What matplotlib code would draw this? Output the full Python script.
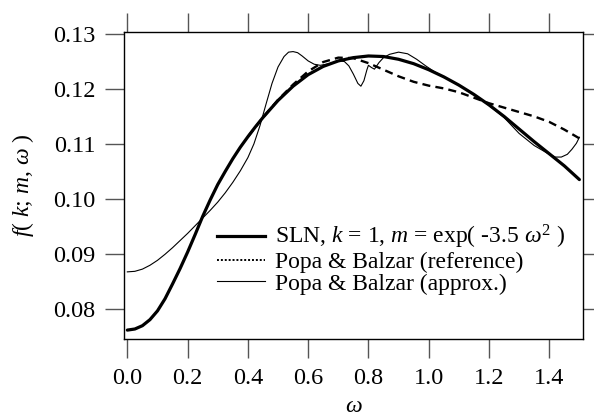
import matplotlib
matplotlib.use("Agg")
import matplotlib.pyplot as plt
from matplotlib.lines import Line2D

plt.rcParams['font.family'] = ['Liberation Serif', 'DejaVu Serif']
plt.rcParams['mathtext.fontset'] = 'custom'
plt.rcParams['mathtext.rm'] = 'Liberation Serif'
plt.rcParams['mathtext.it'] = 'Liberation Serif:italic'

# SLN curve, k = 1, m = exp(-3.5 w^2)
w_sln = [0.000, 0.025, 0.050, 0.075, 0.100, 0.125, 0.150, 0.175, 0.200,
         0.225, 0.250, 0.275, 0.300, 0.325, 0.350, 0.375, 0.400, 0.425,
         0.450, 0.50, 0.55, 0.60, 0.65, 0.70, 0.75, 0.80, 0.85, 0.90,
         0.95, 1.00, 1.05, 1.10, 1.15, 1.20, 1.25, 1.30, 1.35, 1.40,
         1.45, 1.50]
f_sln = [0.0761, 0.0763, 0.0769, 0.0780, 0.0796, 0.0818, 0.0845, 0.0873,
         0.0903, 0.0935, 0.0968, 0.0998, 0.1026, 0.1050, 0.1073, 0.1094,
         0.1113, 0.1131, 0.1148, 0.1179, 0.1205, 0.1226, 0.1241, 0.1251,
         0.1257, 0.1260, 0.1259, 0.1254, 0.1246, 0.1235, 0.1222, 0.1207,
         0.1190, 0.1171, 0.1150, 0.1127, 0.1104, 0.1082, 0.1060, 0.1035]

# Popa & Balzar (reference)
w_ref = [0.40, 0.45, 0.50, 0.55, 0.60, 0.65, 0.70, 0.75, 0.80, 0.85,
         0.90, 0.95, 1.00, 1.05, 1.10, 1.15, 1.20, 1.25, 1.30, 1.35,
         1.40, 1.45, 1.50]
f_ref = [0.1113, 0.1148, 0.1180, 0.1208, 0.1232, 0.1249, 0.1257, 0.1256,
         0.1247, 0.1235, 0.1223, 0.1213, 0.1206, 0.1201, 0.1194, 0.1184,
         0.1174, 0.1166, 0.1158, 0.1150, 0.1140, 0.1126, 0.1110]

# Popa & Balzar (approx.)
w_app = [0.000, 0.025, 0.050, 0.075, 0.100, 0.125, 0.150, 0.175, 0.200,
         0.225, 0.250, 0.275, 0.300, 0.325, 0.350, 0.375, 0.400, 0.420,
         0.440, 0.460, 0.480, 0.500, 0.520, 0.535, 0.550, 0.565, 0.580,
         0.600, 0.620, 0.640, 0.670, 0.700, 0.720, 0.735, 0.750, 0.765,
         0.775, 0.785, 0.795, 0.800, 0.810, 0.820, 0.835, 0.850, 0.870,
         0.900, 0.930, 0.960, 0.990, 1.020, 1.050, 1.100, 1.150, 1.200,
         1.250, 1.300, 1.350, 1.400, 1.420, 1.440, 1.460, 1.475, 1.490,
         1.500]
f_app = [0.0867, 0.0868, 0.0872, 0.0879, 0.0888, 0.0899, 0.0911, 0.0924,
         0.0937, 0.0951, 0.0965, 0.0979, 0.0994, 0.1011, 0.1030, 0.1051,
         0.1075, 0.1100, 0.1133, 0.1172, 0.1210, 0.1240, 0.1259, 0.1267,
         0.1268, 0.1266, 0.1260, 0.1251, 0.1245, 0.1243, 0.1246, 0.1251,
         0.1250, 0.1242, 0.1227, 0.1210, 0.1205, 0.1215, 0.1235, 0.1243,
         0.1239, 0.1236, 0.1248, 0.1257, 0.1263, 0.1267, 0.1264, 0.1254,
         0.1242, 0.1231, 0.1222, 0.1207, 0.1190, 0.1170, 0.1148, 0.1119,
         0.1097, 0.1081, 0.1076, 0.1076, 0.1081, 0.1090, 0.1101, 0.1112]

x_ticks = [0.0, 0.2, 0.4, 0.6, 0.8, 1.0, 1.2, 1.4]
y_ticks = [0.08, 0.09, 0.10, 0.11, 0.12, 0.13]

fig = plt.figure(figsize=(5.94, 4.16), dpi=100)
ax = fig.add_axes([0.2093, 0.1851, 0.7727, 0.7387])

ax.plot(w_ref, f_ref, color='black', lw=1.7, dashes=(3.4, 2.2), zorder=2)
ax.plot(w_app, f_app, color='black', lw=0.8, zorder=3)
ax.plot(w_sln, f_sln, color='black', lw=2.3, zorder=4,
        solid_capstyle='round', solid_joinstyle='round')

ax.set_xlim(-0.01, 1.513)
ax.set_ylim(0.07448, 0.13042)
ax.set_xticks(x_ticks)
ax.set_xticklabels(['%.1f' % v for v in x_ticks])
ax.set_yticks(y_ticks)
ax.set_yticklabels(['%.2f' % v for v in y_ticks])
ax.tick_params(direction='out', length=14, width=1.0, color='#555555',
               labelsize=17.5, pad=7, top=True, right=True)
for s in ax.spines.values():
    s.set_linewidth(1.0)

ax.set_xlabel(r'$\omega$', fontsize=17, labelpad=5)
ax.set_ylabel(r'$f$( $k$; $m$, $\omega$ )', fontsize=17, labelpad=12)

handles = [Line2D([], [], color='black', lw=2.3),
           Line2D([], [], color='black', lw=1.4, ls=(0, (1, 1))),
           Line2D([], [], color='black', lw=0.8)]
labels = [r'SLN, $k$ = 1, $m$ = exp( -3.5 $\omega^2$ )',
          'Popa & Balzar (reference)',
          'Popa & Balzar (approx.)']
ax.legend(handles, labels, loc='upper left', bbox_to_anchor=(0.176, 0.415),
          frameon=False, fontsize=17, handlelength=2.05, handletextpad=0.42,
          labelspacing=0.0, borderpad=0)

fig.savefig('out.png', dpi=100)
